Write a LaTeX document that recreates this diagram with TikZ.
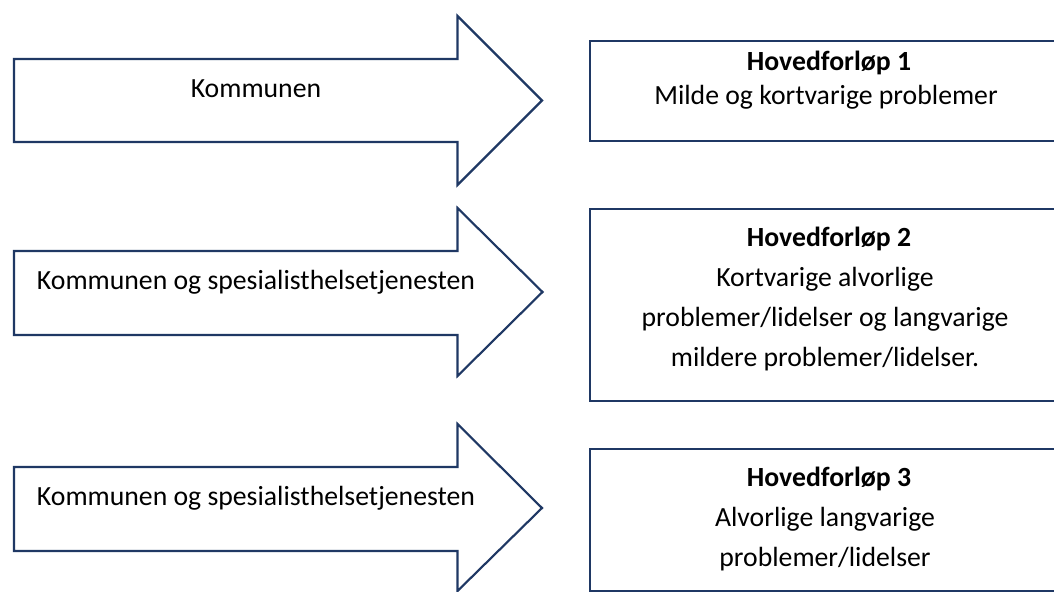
\documentclass[tikz,border=0pt]{standalone}
\usepackage{fontspec}
\setmainfont{Carlito}
\definecolor{navy}{HTML}{1F3864}
\begin{document}
\begin{tikzpicture}[x=0.75pt,y=-0.75pt,
  flow/.style={draw=navy, line width=1.6pt, fill=white, line join=miter},
  boxshape/.style={rectangle, anchor=north west,
    inner sep=0pt, outer sep=0pt, minimum width=375pt},
  boxline/.style={draw=navy, line width=1.6pt, line join=miter},
  lbl/.style={font=\fontsize{20.8}{24}\selectfont, anchor=base, inner sep=0pt, text=black},
  lblb/.style={lbl, font=\fontsize{20.8}{24}\selectfont\bfseries}]
\useasboundingbox (0,0) rectangle (1054,592);
\fill[white] (0,0) rectangle (1054,592);
\begin{scope}
\clip (0,0) rectangle (1054,592);
% boxes (right edge runs off the picture)
\node[boxshape, minimum height=75pt] (box1) at (590,40.7) {};
\node[boxshape, minimum height=143.8pt] (box2) at (590,209) {};
\node[boxshape, minimum height=106.5pt] (box3) at (590,449) {};
\foreach \b in {box1,box2,box3}
  \draw[boxline] (\b.north east) -- (\b.north west) -- (\b.south west) -- (\b.south east);
\end{scope}

% block arrows
\draw[flow] (14,59) -- (457.5,59) -- (457.5,16) -- (542,100.5) -- (457.5,185) -- (457.5,142) -- (14,142) -- cycle;
\draw[flow] (14,251) -- (457.5,251) -- (457.5,208) -- (542.5,292) -- (457.5,376) -- (457.5,335) -- (14,335) -- cycle;
\draw[flow] (14,467) -- (457.5,467) -- (457.5,424) -- (542,508) -- (457.5,591) -- (457.5,551) -- (14,551) -- cycle;

% arrow labels
\node[lbl] (a1) at (256,97.3) {Kommunen};
\node[lbl] (a2) at (256,289.3) {Kommunen og spesialisthelsetjenesten};
\node[lbl] (a3) at (256,505) {Kommunen og spesialisthelsetjenesten};

% box texts
\node[lblb] (h1) at (829,70.7) {Hovedforløp 1};
\node[lbl] (d1) at (826,104) {Milde og kortvarige problemer};

\node[lblb] (h2) at (829,246) {Hovedforløp 2};
\node[lbl] (d2a) at (825,286) {Kortvarige alvorlige};
\node[lbl] (d2b) at (825,326) {problemer/lidelser og langvarige};
\node[lbl] (d2c) at (825,366) {mildere problemer/lidelser.};

\node[lblb] (h3) at (829,486) {Hovedforløp 3};
\node[lbl] (d3a) at (825,526) {Alvorlige langvarige};
\node[lbl] (d3b) at (825,566) {problemer/lidelser};
\end{tikzpicture}
\end{document}
